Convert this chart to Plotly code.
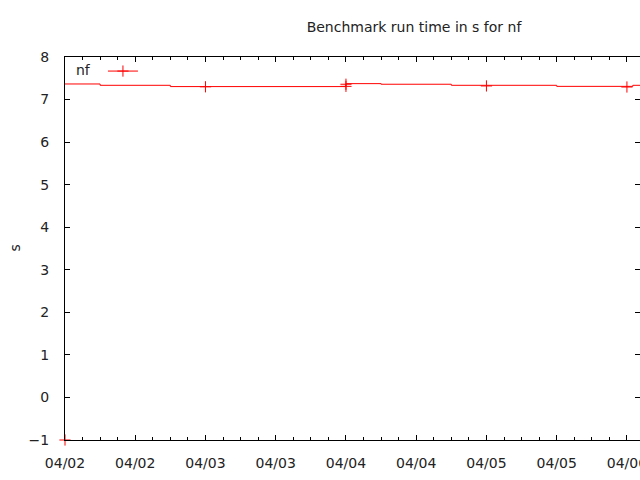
import plotly.graph_objects as go

# Step line (segment start times and levels)
step_times = ["2024-04-01 23:20", "2024-04-02 06:00", "2024-04-02 18:00",
              "2024-04-04 00:00", "2024-04-04 06:00", "2024-04-04 18:00",
              "2024-04-05 12:00", "2024-04-06 01:00", "2024-04-06 04:00"]
step_values = [7.366, 7.335, 7.305, 7.374, 7.36, 7.335, 7.31, 7.335, 7.335]

# Point markers
point_times = ["2024-04-02 00:00", "2024-04-03 00:00", "2024-04-04 00:00",
               "2024-04-04 00:00", "2024-04-05 00:00", "2024-04-06 00:00"]
point_values = [-1.0, 7.30, 7.36, 7.31, 7.32, 7.295]

series_name = "nf"
title_text = "Benchmark run time in s for nf"
y_title = "s"

RED = "#ff0000"
FONT = "DejaVu Sans"
FS = 14
TXT = "#222222"

fig = go.Figure()
fig.add_trace(go.Scatter(
    x=step_times, y=step_values, mode="lines", line_shape="hv",
    line=dict(color=RED, width=1), showlegend=False, hoverinfo="skip"))
fig.add_trace(go.Scatter(
    x=point_times, y=point_values, mode="markers",
    marker=dict(symbol="cross-thin", size=8, line=dict(color=RED, width=1)),
    showlegend=False, cliponaxis=False))
# legend sample (line + point)
fig.add_trace(go.Scatter(
    x=[None], y=[None], mode="lines+markers", name=" ",
    line=dict(color=RED, width=1),
    marker=dict(symbol="cross-thin", size=8, line=dict(color=RED, width=1))))

fig.update_layout(
    width=640, height=480,
    margin=dict(l=65, r=0, t=57, b=40, autoexpand=False),
    paper_bgcolor="white", plot_bgcolor="white",
    font=dict(family=FONT, size=FS, color=TXT),
    title=dict(text=title_text, x=414/640, xref="container", xanchor="center",
               y=1-27/480, yref="container", yanchor="middle",
               font=dict(family=FONT, size=FS, color=TXT)),
    legend=dict(x=0.066, y=1.004, xanchor="left", yanchor="top",
                bgcolor="rgba(0,0,0,0)", borderwidth=0,
                font=dict(family=FONT, size=FS)),
    annotations=[
        dict(text=series_name, xref="paper", yref="paper",
             x=(74-65)/575, y=1-(70-57)/383, xanchor="left", yanchor="middle",
             showarrow=False, font=dict(family=FONT, size=FS, color=TXT)),
        dict(text=y_title, xref="paper", yref="paper", textangle=-90,
             x=(14-65)/575, y=0.5, xanchor="center", yanchor="middle",
             showarrow=False, font=dict(family=FONT, size=FS, color=TXT)),
    ],
)

fig.update_xaxes(
    type="date",
    range=["2024-04-02 00:00", "2024-04-06 02:14"],
    tickformat="%m/%d", tick0="2024-04-02", dtick=12*3600*1000,
    ticks="inside", ticklen=5, tickcolor="black", tickwidth=1,
    minor=dict(ticks="inside", ticklen=3, dtick=3*3600*1000, tickcolor="black", showgrid=False),
    showline=True, linecolor="black", linewidth=1, mirror="allticks",
    showgrid=False, zeroline=False, ticklabelstandoff=10,
    ticklabeloverflow="allow", automargin=False,
    tickfont=dict(family=FONT, size=FS, color=TXT),
)
fig.update_yaxes(
    range=[-1, 8], dtick=1, tick0=0,
    ticks="inside", ticklen=5, tickcolor="black", tickwidth=1,
    showline=True, linecolor="black", linewidth=1, mirror="allticks",
    showgrid=False, zeroline=False, ticklabelstandoff=12, automargin=False,
    tickfont=dict(family=FONT, size=FS, color=TXT),
)

fig.write_html("out.html", config={"displayModeBar": False},
               post_script="document.body.style.margin='0';")
